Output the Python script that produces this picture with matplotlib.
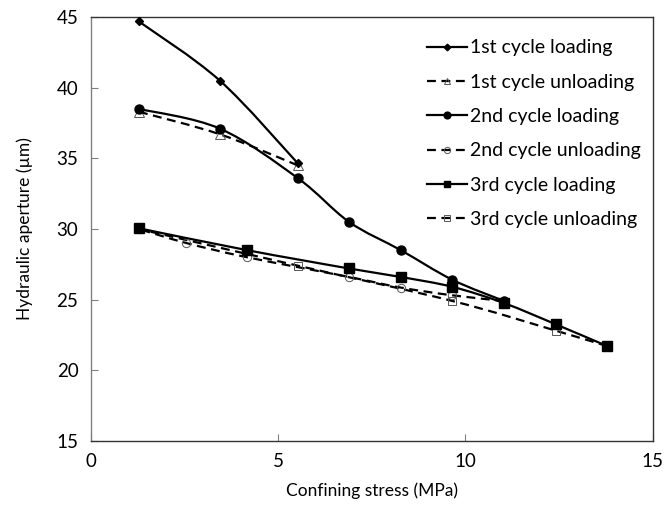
import numpy as np
import matplotlib
matplotlib.use("Agg")
import matplotlib.pyplot as plt
from matplotlib.path import Path
from matplotlib.patches import PathPatch
from matplotlib.lines import Line2D

# Werte (Spannung in MPa, Öffnung in µm)
x_load1 = [1.27, 3.44, 5.52]
y_load1 = [44.7, 40.5, 34.65]
x_unload1 = [5.52, 3.44, 1.27]
y_unload1 = [34.5, 36.7, 38.3]
x_load2 = [1.27, 3.44, 5.52, 6.89, 8.27, 9.65, 11.03]
y_load2 = [38.5, 37.1, 33.6, 30.5, 28.5, 26.4, 24.9]
x_unload2 = [11.03, 9.65, 8.27, 6.89, 4.16, 2.55, 1.27]
y_unload2 = [24.9, 25.3, 25.85, 26.6, 28.0, 29.0, 30.0]
x_load3 = [1.27, 4.16, 6.89, 8.27, 9.65, 11.03, 12.41, 13.79]
y_load3 = [30.05, 28.5, 27.2, 26.6, 25.9, 24.75, 23.25, 21.7]
x_unload3 = [13.79, 12.41, 9.65, 5.52, 1.27]
y_unload3 = [21.7, 22.8, 24.9, 27.4, 30.0]

labels = ['1st cycle loading', '1st cycle unloading',
          '2nd cycle loading', '2nd cycle unloading',
          '3rd cycle loading', '3rd cycle unloading']

plt.rcParams['font.family'] = ['Lato', 'DejaVu Sans']


def smooth_path(x, y):
    # geglättete Linie wie in Excel (Bezier durch die Messpunkte)
    pts = np.column_stack([x, y]).astype(float)
    n = len(pts)
    verts = [pts[0]]
    codes = [Path.MOVETO]
    for i in range(n - 1):
        p0 = pts[i - 1] if i > 0 else pts[i]
        p1 = pts[i]
        p2 = pts[i + 1]
        p3 = pts[i + 2] if i + 2 < n else pts[i + 1]
        verts += [p1 + (p2 - p0) / 6, p2 - (p3 - p1) / 6, p2]
        codes += [Path.CURVE4] * 3
    return Path(verts, codes)


dash = (0, (4, 2.5))
series = [
    (x_load1, y_load1, '-', 'D', 'k', 4.5),
    (x_unload1, y_unload1, dash, '^', 'none', 6.5),
    (x_load2, y_load2, '-', 'o', 'k', 6.5),
    (x_unload2, y_unload2, dash, 'o', 'none', 6),
    (x_load3, y_load3, '-', 's', 'k', 6.5),
    (x_unload3, y_unload3, dash, 's', 'none', 6),
]

fig = plt.figure(figsize=(6.64, 5.15), dpi=100)
ax = fig.add_axes([0.137, 0.144, 0.846, 0.823])

handles = []
for (xs, ys, ls, mk, fc, ms), lab in zip(series, labels):
    ax.add_patch(PathPatch(smooth_path(xs, ys), fill=False, edgecolor='black',
                           linewidth=1.6, linestyle=ls, zorder=2))
    hollow = fc == 'none'
    ew = 0.7 if hollow else 1.0
    ec = '#555555' if hollow else 'black'
    ax.plot(xs, ys, linestyle='none', marker=mk, markersize=ms,
            markerfacecolor=fc, markeredgecolor=ec, markeredgewidth=ew,
            zorder=3 if hollow else 4)
    handles.append(Line2D([], [], color='black', linewidth=1.6, linestyle=ls,
                          marker=mk, markersize=ms * 0.75, markerfacecolor=fc,
                          markeredgecolor=ec, markeredgewidth=ew))

ax.set_xlim(0, 15)
ax.set_ylim(15, 45)
ax.set_xticks([0, 5, 10, 15])
ax.set_yticks([15, 20, 25, 30, 35, 40, 45])
ax.tick_params(direction='in', length=5, width=0.8, color='#808080',
               labelsize=13.5, pad=9)
for side in ['top', 'right', 'bottom']:
    ax.spines[side].set_color('#333333')
ax.spines['left'].set_color('#808080')
for sp in ax.spines.values():
    sp.set_linewidth(1.0)

ax.set_xlabel('Confining stress (MPa)', fontsize=12.5, labelpad=9)
ax.set_ylabel('Hydraulic aperture (µm)', fontsize=12.5, labelpad=17)

ax.legend(handles, labels, loc='upper left', bbox_to_anchor=(0.598, 0.947),
          frameon=False, fontsize=14, handlelength=2.05, handletextpad=0.15,
          labelspacing=0.89, borderpad=0, borderaxespad=0)

plt.savefig('out.png', dpi=100)
